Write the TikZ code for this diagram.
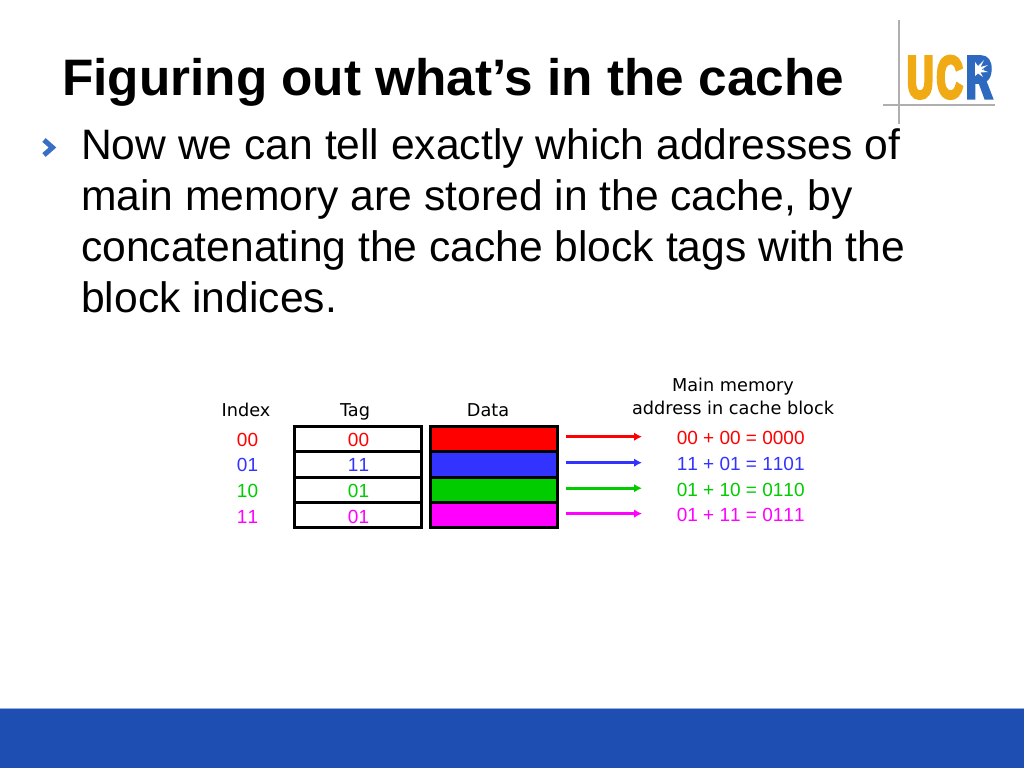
\documentclass[tikz,border=0pt]{standalone}
\usepackage{fontspec}
\setmainfont{Liberation Sans}
\newfontfamily\smallfont{DejaVu Sans}
\newfontfamily\cellfont[Kerning=Off]{Liberation Sans}
\newfontfamily\logofont[FakeStretch=0.6,FakeBold=5]{Liberation Sans Bold}
\usetikzlibrary{arrows.meta}
\definecolor{cred}{RGB}{255,0,0}
\definecolor{cblue}{RGB}{51,51,255}
\definecolor{cgreen}{RGB}{0,204,0}
\definecolor{cmag}{RGB}{255,0,255}
\definecolor{band}{RGB}{31,78,178}
\definecolor{bandedge}{RGB}{150,175,225}
\definecolor{bullet}{RGB}{56,110,196}
\definecolor{gold}{RGB}{240,170,20}
\definecolor{ucrblue}{RGB}{45,105,190}
\definecolor{logoline}{RGB}{175,175,175}
\tikzset{
  x=1pt,y=-1pt,
  titletext/.style={anchor=base west,inner sep=0,font=\fontsize{51.3}{51.3}\selectfont\bfseries},
  bodytext/.style={anchor=base west,inner sep=0,font=\fontsize{42.6}{42.6}\selectfont},
  headtext/.style={anchor=base,inner sep=0,font=\fontsize{17.7}{17.7}\selectfont\smallfont,text=black},
  celltext/.style={anchor=base,inner sep=0,font=\fontsize{19}{19}\selectfont\cellfont},
  cellbox/.style={draw=black,line width=2.8pt,minimum width=127pt,minimum height=25.25pt,inner sep=0},
  maparrow/.style={line width=2.6pt,-{Latex[length=8pt,width=8.5pt]}},
  logoletter/.style={anchor=base west,inner sep=0,font=\fontsize{60}{60}\selectfont\logofont}
}
\begin{document}
\begin{tikzpicture}
\useasboundingbox (0,0) rectangle (1024,768);
\fill[white] (0,0) rectangle (1024,768);
\fill[band] (0,708) rectangle (1024,768);
\draw[bandedge,line width=1pt] (0,708) -- (1024,708);
% logo
\draw[logoline,line width=1.5pt] (899,20) -- (899,124);
\draw[logoline,line width=1.5pt] (883,105) -- (995,105);
\node[logoletter,text=gold] (logoU) at (907,98) {U};
\node[logoletter,text=gold] (logoC) at (936.5,98) {C};
\node[logoletter,text=ucrblue] (logoR) at (966,98) {R};
\fill[ucrblue] (974,59) rectangle (983,76);
\fill[white] (975,62) -- (978,66) -- (984,60) -- (980.5,67) -- (988,65) -- (981.5,69.5) -- (988,72) -- (980.5,72.5) -- (983,77) -- (978,73.5) -- (975,76) -- cycle;
% title and body
\node[titletext] (title) at (62,95) {Figuring out what’s in the cache};
\draw[bullet,line width=5pt,line join=miter] (44,140) -- (52.5,147.5) -- (44,155);
\node[bodytext] (l1) at (81,159) {Now we can tell exactly which addresses of};
\node[bodytext] (l2) at (81,210) {main memory are stored in the cache, by};
\node[bodytext] (l3) at (81,261) {concatenating the cache block tags with the};
\node[bodytext] (l4) at (81,312) {block indices.};
% headers
\node[headtext] (hindex) at (246,416) {Index};
\node[headtext] (htag) at (355,416) {Tag};
\node[headtext] (hdata) at (488,416) {Data};
\node[headtext] (hmain) at (733,391) {Main memory};
\node[headtext] (haddr) at (733,414.5) {address in cache block};
% rows
\foreach \n/\c/\y/\ty/\sy/\ay/\idx/\tg/\sum in {
  0/cred/439.1/446/444/436.7/00/00/{00 + 00 = 0000},
  1/cblue/464.4/471.7/470/462.7/01/11/{11 + 01 = 1101},
  2/cgreen/489.9/497/496/488.2/10/01/{01 + 10 = 0110},
  3/cmag/515.1/523/521.7/513.6/11/01/{01 + 11 = 0111}}{
  \node[cellbox,fill=white] (tag\n) at (358,\y) {};
  \node[cellbox,fill=\c] (data\n) at (493.7,\y) {};
  \node[celltext,text=\c] (idx\n) at (247.5,\ty) {\idx};
  \node[celltext,text=\c] (tagt\n) at (358.5,\ty) {\tg};
  \node[celltext,text=\c] (sum\n) at (740.7,\sy) {\sum};
  \coordinate (from\n) at (566,\ay);
  \coordinate (to\n) at (642,\ay);
  \draw[maparrow,\c] (from\n) -- (to\n);
}
\end{tikzpicture}
\end{document}
